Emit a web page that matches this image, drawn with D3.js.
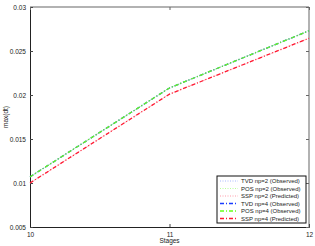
<!DOCTYPE html>
<html><head><meta charset="utf-8">
<script src="https://cdn.jsdelivr.net/npm/d3@7"></script>
<style>body{margin:0;background:#fff}svg{display:block}text{font-family:"Liberation Sans",Arial,sans-serif}</style>
</head><body><svg id="c" width="315" height="246"></svg>
<script>
const stages = [10, 11, 12];
const yTicks = [0.005, 0.01, 0.015, 0.02, 0.025, 0.03];
const tvd2 = [0.0107, 0.0208, 0.0273];
const pos2 = [0.0107, 0.0208, 0.0273];
const ssp2 = [0.0100, 0.0201, 0.02645];
const tvd4 = [0.0107, 0.0208, 0.0273];
const pos4 = [0.0107, 0.0208, 0.0273];
const ssp4 = [0.0100, 0.0201, 0.02645];
const seriesNames = ["TVD np=2 (Observed)","POS np=2 (Observed)","SSP np=2 (Predicted)","TVD np=4 (Observed)","POS np=4 (Observed)","SSP np=4 (Predicted)"];
const seriesData = [tvd2,pos2,ssp2,tvd4,pos4,ssp4];
const colors = ["#a8b8ff","#b8ff9a","#ff9aa8","#1a3cff","#66ff1a","#ff1a33"];
const dashes = ["1,1.5","1,1.5","1,1.5","4,2,1,2","4,2,1,2","4,2,1,2"];

const svg = d3.select("#c");
const L=30,R=309,T=7,B=227;
const x = d3.scaleLinear().domain([10,12]).range([L,R]);
const y = d3.scaleLinear().domain([0.005,0.03]).range([B,T]);

// frame
svg.append("line").attr("x1",L).attr("x2",R).attr("y1",T).attr("y2",T).attr("stroke","#999").attr("stroke-width",1.5);
svg.append("line").attr("x1",R).attr("x2",R).attr("y1",T).attr("y2",B).attr("stroke","#999").attr("stroke-width",1.5);

const fs = 6.5;
const gx = svg.append("g").attr("transform",`translate(0,${B})`)
  .call(d3.axisBottom(x).tickValues(stages).tickSize(-3).tickPadding(5).tickFormat(d3.format("d")));
const gy = svg.append("g").attr("transform",`translate(${L},0)`)
  .call(d3.axisLeft(y).tickValues(yTicks).tickSize(-3).tickPadding(4).tickFormat(d=>String(+d.toFixed(3))));
[gx,gy].forEach(g=>{
  g.select(".domain").attr("stroke","#222").attr("stroke-width",1);
  g.selectAll(".tick line").attr("stroke","#444");
  g.selectAll("text").attr("font-size",fs).attr("fill","#222").attr("font-family","Liberation Sans, Arial, sans-serif");
});
// right side ticks
svg.append("g").attr("transform",`translate(${R},0)`)
  .call(d3.axisRight(y).tickValues(yTicks).tickSize(-3).tickFormat(""))
  .call(g=>{g.select(".domain").remove();g.selectAll("line").attr("stroke","#666");});
svg.append("g").attr("transform",`translate(0,${T})`)
  .call(d3.axisTop(x).tickValues(stages).tickSize(-3).tickFormat(""))
  .call(g=>{g.select(".domain").remove();g.selectAll("line").attr("stroke","#666");});

svg.append("text").attr("x",(L+R)/2).attr("y",243).attr("text-anchor","middle").attr("font-size",fs).attr("fill","#222").text("Stages");
svg.append("text").attr("transform",`translate(8,${(T+B)/2}) rotate(-90)`).attr("text-anchor","middle").attr("font-size",fs).attr("fill","#222").text("max(dt)");

const line = d3.line().x((d,i)=>x(stages[i])).y(d=>y(d));
seriesData.forEach((s,i)=>{
  svg.append("path").attr("d",line(s)).attr("fill","none").attr("stroke",colors[i])
    .attr("stroke-width",i<3?1:1.3).attr("stroke-dasharray",dashes[i]);
});

// legend
const lg = svg.append("g");
const lx=217, ly=176, lw=89, lh=47;
lg.append("rect").attr("x",lx).attr("y",ly).attr("width",lw).attr("height",lh).attr("fill","#fff").attr("stroke","#111").attr("stroke-width",1);
seriesNames.forEach((n,i)=>{
  const yy = ly+5+i*7.5;
  lg.append("line").attr("x1",lx+3).attr("x2",lx+21).attr("y1",yy).attr("y2",yy).attr("stroke",colors[i]).attr("stroke-width",i<3?1:1.3).attr("stroke-dasharray",dashes[i]);
  lg.append("text").attr("x",lx+24).attr("y",yy+2.2).attr("font-size",6).attr("fill","#222").text(n);
});
</script></body></html>
